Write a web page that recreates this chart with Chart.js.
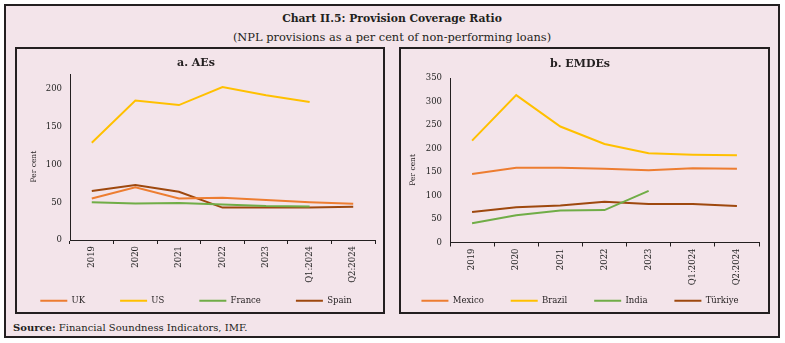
<!DOCTYPE html>
<html>
<head>
<meta charset="utf-8">
<script src="https://cdn.jsdelivr.net/npm/chart.js@4.4.1/dist/chart.umd.min.js"></script>
<style>
  body { margin: 0; width: 785px; height: 343px; background: #fff; position: relative; overflow: hidden; }
  #frame { position: absolute; left: 4px; top: 4px; width: 776px; height: 334px; box-sizing: border-box;
           border: 2px solid #231f20; background: #f3e4ea; }
  .head { position: absolute; left: 4px; width: 776px; text-align: center; color: #231f20;
          font-family: "DejaVu Serif", serif; line-height: 16px; }
  #title { top: 11px; font-size: 10.8px; font-weight: bold; }
  #subtitle { top: 29px; font-size: 11.4px; }
  .panel { position: absolute; top: 47px; height: 267px; box-sizing: border-box; border: 2px solid #231f20; }
  #p1 { left: 15px; width: 370px; }
  #p2 { left: 399px; width: 371px; }
  canvas { display: block; }
  #source { position: absolute; left: 13px; top: 321px; font-family: "DejaVu Serif", serif; font-size: 10px;
            color: #231f20; line-height: 14px; }
</style>
</head>
<body>
<div id="frame"></div>
<div class="head" id="title">Chart II.5: Provision Coverage Ratio</div>
<div class="head" id="subtitle">(NPL provisions as a per cent of non-performing loans)</div>
<div class="panel" id="p1"><canvas id="aeChart" width="366" height="263"></canvas></div>
<div class="panel" id="p2"><canvas id="emdeChart" width="367" height="263"></canvas></div>
<div id="source"><b>Source:</b> Financial Soundness Indicators, IMF.</div>

<script>
// data
const categories = ['2019', '2020', '2021', '2022', '2023', 'Q1:2024', 'Q2:2024'];

const ukValues = [55, 70, 55, 56, 53, 50, 48];
const usValues = [129, 185, 179, 203, 192, 183, null];
const franceValues = [50, 48.5, 49, 47, 45, 44.5, null];
const spainValues = [65, 73, 64, 43, 43, 43, 44];

const mexicoValues = [146, 159, 159, 157, 154, 158, 157];
const brazilValues = [217, 314, 247, 210, 190, 187, 186];
const indiaValues = [41, 58, 68, 69, 110, null, null];
const turkiyeValues = [65, 75, 79, 87, 82, 82, 78];

const aeMax = 220;
const emdeMax = 350;
const tickStep = 50;

// colours
const ORANGE = '#ED7D31', GOLD = '#FFC000', GREEN = '#70AD47', BROWN = '#9E480E';
const INK = '#231f20';

function line(label, values, color) {
  return {
    label: label,
    data: values,
    borderColor: color,
    backgroundColor: color,
    borderWidth: 2,
    pointRadius: 0,
    tension: 0,
    spanGaps: false,
  };
}

// lay: fixed sizes so both panels line up like the original
function makeChart(id, title, datasets, max, lay) {
  const gap = '\u00a0'.repeat(lay.legendSpaces);
  return new Chart(document.getElementById(id), {
    type: 'line',
    data: { labels: categories, datasets: datasets },
    options: {
      responsive: false,
      animation: false,
      layout: { padding: { left: 0, right: lay.right, top: 0, bottom: -3 } },
      plugins: {
        title: {
          display: true,
          text: title,
          color: INK,
          font: { family: 'DejaVu Serif', size: 11, weight: 'bold', lineHeight: 1.2 },
          padding: { top: lay.titleTop, bottom: lay.titleBottom },
        },
        legend: {
          position: 'bottom',
          labels: {
            usePointStyle: true,
            pointStyle: 'line',
            pointStyleWidth: 27,
            padding: 8,
            color: INK,
            font: { family: 'DejaVu Serif', size: 8.5 },
            // wider spacing between entries, like the original
            generateLabels: (chart) => {
              const items = Chart.defaults.plugins.legend.labels.generateLabels(chart);
              items.forEach((it, i) => { if (i < items.length - 1) it.text += gap; });
              return items;
            },
          },
        },
        tooltip: { enabled: false },
      },
      scales: {
        x: {
          offset: true,
          grid: { offset: true, drawOnChartArea: false, drawTicks: true, tickLength: 4, color: INK },
          border: { color: INK, width: 1 },
          ticks: {
            autoSkip: false, minRotation: 90, maxRotation: 90, padding: 2,
            color: '#262626', font: { family: 'DejaVu Serif', size: 8.5 },
          },
          afterFit: (s) => { s.height = lay.xHeight; },
        },
        y: {
          min: 0,
          max: max,
          grid: { display: false, drawTicks: false },
          border: { color: INK, width: 1 },
          ticks: {
            stepSize: tickStep, padding: 8,
            color: '#262626', font: { family: 'DejaVu Serif', size: 8.5 },
          },
          afterBuildTicks: (s) => { s.ticks = s.ticks.filter(t => t.value % tickStep === 0); },
          title: {
            display: true,
            text: 'Per cent\u00a0\u00a0\u00a0\u00a0\u00a0\u00a0\u00a0\u00a0',
            color: INK,
            font: { family: 'DejaVu Serif', size: 7.5, lineHeight: 1.2 },
            padding: { top: lay.yTitle, bottom: 0 },
          },
          afterFit: (s) => { s.width = lay.yWidth; },
        },
      },
    },
  });
}

makeChart('aeChart', 'a. AEs', [
  line('UK', ukValues, ORANGE),
  line('US', usValues, GOLD),
  line('France', franceValues, GREEN),
  line('Spain', spainValues, BROWN),
], aeMax, { right: 8, titleTop: 8, titleBottom: 4, legendSpaces: 10, xHeight: 48.5, yWidth: 53, yTitle: 12.5 });

makeChart('emdeChart', 'b. EMDEs', [
  line('Mexico', mexicoValues, ORANGE),
  line('Brazil', brazilValues, GOLD),
  line('India', indiaValues, GREEN),
  line('Türkiye', turkiyeValues, BROWN),
], emdeMax, { right: 9, titleTop: 9, titleBottom: 7, legendSpaces: 7, xHeight: 46, yWidth: 49, yTitle: 8 });
</script>
</body>
</html>
